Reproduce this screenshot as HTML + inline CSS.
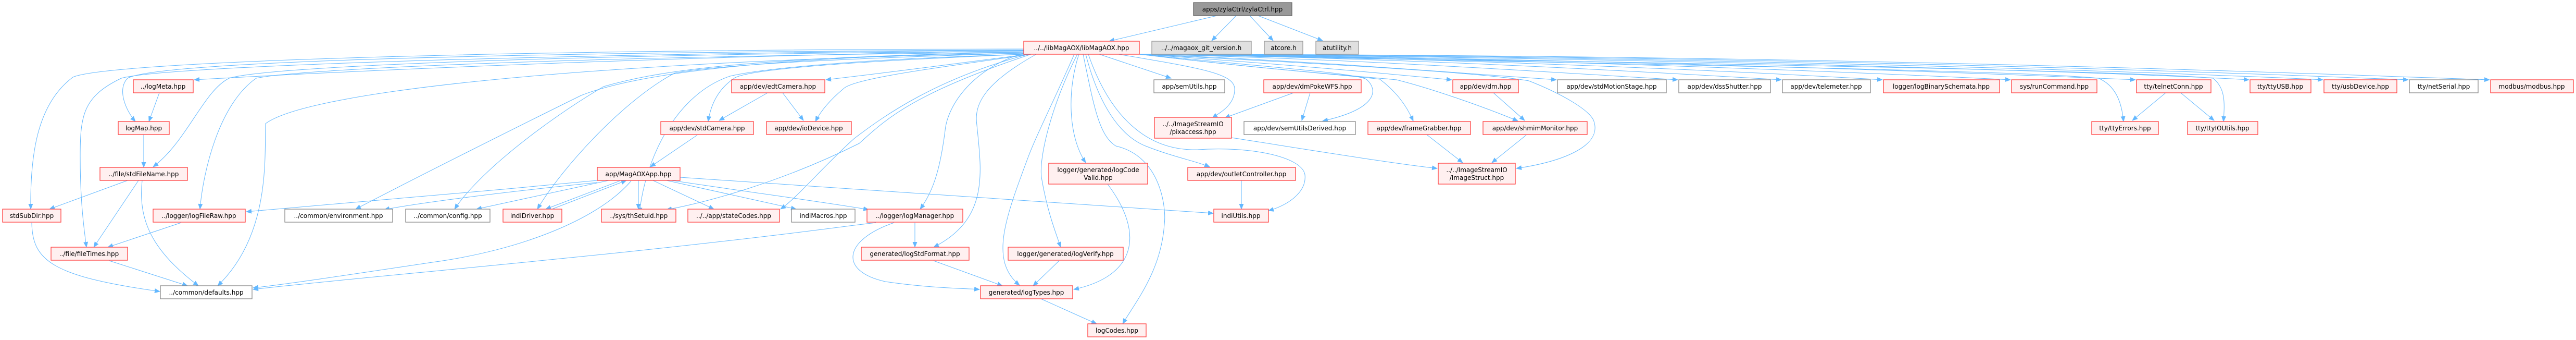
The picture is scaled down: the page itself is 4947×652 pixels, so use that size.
<!DOCTYPE html>
<html><head><meta charset="utf-8"><style>
html,body{margin:0;padding:0;background:#fff;}
svg{display:block;}
text{font-family:"DejaVu Sans","Liberation Sans",sans-serif;font-size:12px;fill:#000;text-anchor:middle;}
.r{fill:#fff0f0;stroke:#ff4040;stroke-width:1.3;}
.w{fill:#fff;stroke:#888;stroke-width:1.3;}
.g{fill:#e0e0e0;stroke:#999;stroke-width:1.3;}
.d{fill:#999;stroke:#666;stroke-width:1.3;}
path.e{fill:none;stroke:#63b8ff;stroke-width:1;marker-end:url(#a);}
</style></head><body>
<svg width="4947" height="652" viewBox="0 0 4947 652" xmlns="http://www.w3.org/2000/svg">
<defs><marker id="a" markerWidth="11" markerHeight="9" refX="10" refY="4.5" orient="auto" markerUnits="userSpaceOnUse"><path d="M0,0 L11,4.5 L0,9z" fill="#63b8ff"/></marker></defs>

<!-- edges -->
<g>
<path class="e" d="M2337,30 L2130,79"/>
<path class="e" d="M2374,30 L2327,78"/>
<path class="e" d="M2400,30 L2445,78"/>
<path class="e" d="M2416,30 L2540,78"/>

<path class="e" d="M1966,97 C1200,110 600,140 373,153"/>
<path class="e" d="M1966,96 C900,100 300,120 245,150 C225,170 240,210 260,233"/>
<path class="e" d="M1966,98 C1000,105 500,130 440,150 C390,175 360,270 294,320"/>
<path class="e" d="M1966,94 C900,95 200,120 140,148 C70,200 58,300 59,401"/>
<path class="e" d="M1966,96 C900,105 300,130 233,150 C160,185 154,220 154,300 C154,380 160,430 166,474"/>
<path class="e" d="M1966,100 C1000,110 560,135 492,150 C420,200 390,330 384,401"/>
<path class="e" d="M1966,102 C1200,115 600,170 510,237 C508,300 520,450 418,548"/>
<path class="e" d="M1966,100 C1400,110 1200,150 1116,183 C1000,240 800,340 683,401"/>
<path class="e" d="M1966,100 C1400,110 1250,140 1159,166 C1050,230 920,330 873,401"/>
<path class="e" d="M1966,102 C1500,115 1350,130 1296,140 C1200,190 1080,320 1032,401"/>
<path class="e" d="M1966,104 C1600,115 1450,135 1402,146 C1300,180 1240,300 1228,408"/>
<path class="e" d="M1966,104 C1700,115 1440,130 1410,150 C1380,170 1365,200 1360,233"/>
<path class="e" d="M1975,104 C1850,120 1700,140 1586,153"/>
<path class="e" d="M1980,104 C1800,130 1640,150 1620,170 C1590,195 1575,215 1566,233"/>
<path class="e" d="M1975,104 C1800,150 1700,220 1640,266 C1580,320 1530,380 1499,401"/>
<path class="e" d="M1980,104 C1750,180 1700,230 1650,275 C1500,350 1350,390 1280,402"/>
<path class="e" d="M1966,102 C1870,130 1820,200 1815,250 C1805,330 1790,370 1767,401"/>
<path class="e" d="M1990,104 C1890,160 1870,200 1876,240 C1885,330 1900,420 1793,474"/>
<path class="e" d="M2063,104 C2030,180 1990,260 1975,300 C1930,420 1900,500 1958,547"/>
<path class="e" d="M2069,104 C2020,200 1995,300 2000,340 C2010,400 2025,440 2037,474"/>
<path class="e" d="M2072,104 C2050,170 2050,260 2085,312"/>
<path class="e" d="M2080,104 C2100,200 2110,260 2143,280 C2230,300 2240,400 2236,430 C2230,520 2180,580 2156,621"/>
<path class="e" d="M2085,104 C2110,200 2150,260 2200,280 C2250,300 2300,310 2323,320"/>
<path class="e" d="M2090,104 C2130,220 2200,290 2300,287 C2400,280 2500,300 2506,335 C2510,370 2470,395 2436,404"/>
<path class="e" d="M2111,104 L2249,150"/>
<path class="e" d="M2148,104 C2300,130 2370,140 2371,170 C2372,200 2345,215 2328,226"/>
<path class="e" d="M2188,104 C2450,130 2600,140 2624,152 C2650,175 2640,210 2540,232"/>
<path class="e" d="M2188,104 C2450,135 2600,145 2650,152 C2680,175 2700,200 2714,232"/>
<path class="e" d="M2188,104 C2450,135 2600,145 2682,153 C2750,170 2850,205 2915,232"/>
<path class="e" d="M2188,104 C2600,125 2850,140 2936,155 C3000,180 3050,210 3060,230 C3080,280 3000,310 2912,323"/>
<path class="e" d="M2188,104 C2500,125 2700,145 2788,153"/>
<path class="e" d="M2188,104 C2500,115 2800,140 2989,153"/>
<path class="e" d="M2188,104 C2600,112 3000,140 3222,153"/>
<path class="e" d="M2188,104 C2700,110 3200,140 3421,153"/>
<path class="e" d="M2188,104 C2800,110 3400,140 3615,153"/>
<path class="e" d="M2188,104 C2900,110 3600,140 3861,153"/>
<path class="e" d="M2188,104 C3000,110 3800,140 4101,153"/>
<path class="e" d="M2188,104 C3000,120 3900,135 4030,150 C4065,165 4075,200 4078,233"/>
<path class="e" d="M2188,104 C3200,120 4100,135 4250,150 C4275,170 4272,200 4270,233"/>
<path class="e" d="M2188,104 C3200,110 4100,140 4319,153"/>
<path class="e" d="M2188,104 C3300,108 4200,140 4461,153"/>
<path class="e" d="M2188,104 C3400,106 4300,140 4625,153"/>
<path class="e" d="M2188,104 C3500,104 4400,140 4781,153"/>

<path class="e" d="M306,178 L286,233"/>
<path class="e" d="M276,258 L276,321"/>
<path class="e" d="M245,346 L95,401"/>
<path class="e" d="M266,346 L180,474"/>
<path class="e" d="M273,346 C265,420 290,480 381,548"/>
<path class="e" d="M61,427 C62,500 100,530 307,559"/>
<path class="e" d="M348,427 L207,474"/>
<path class="e" d="M210,500 L360,548"/>

<path class="e" d="M1474,178 L1381,231"/>
<path class="e" d="M1503,178 L1543,231"/>
<path class="e" d="M1339,259 L1249,320"/>
<path class="e" d="M1147,346 C900,370 600,395 473,406"/>
<path class="e" d="M1147,350 C950,370 800,390 738,402"/>
<path class="e" d="M1169,346 L915,401"/>
<path class="e" d="M1190,347 L1048,401"/>
<path class="e" d="M1060,401 L1203,346"/>
<path class="e" d="M1226,346 L1226,401"/>
<path class="e" d="M1254,346 L1371,401"/>
<path class="e" d="M1280,346 L1529,401"/>
<path class="e" d="M1306,340 L2330,409"/>
<path class="e" d="M1290,346 C1450,370 1600,390 1668,402"/>
<path class="e" d="M1212,347 C1150,420 1000,480 830,503 C650,530 550,545 486,552"/>
<path class="e" d="M1682,427 L1640,432 C1200,490 700,530 486,555"/>
<path class="e" d="M1717,427 C1620,460 1610,520 1700,540 C1780,552 1850,553 1881,555"/>
<path class="e" d="M1757,427 L1757,474"/>
<path class="e" d="M1793,500 L1925,548"/>
<path class="e" d="M2034,500 L1984,548"/>
<path class="e" d="M2127,353 C2200,450 2180,530 2062,555"/>
<path class="e" d="M1999,573 L2106,621"/>
<path class="e" d="M2384,346 L2384,401"/>
<path class="e" d="M2484,178 L2352,226"/>
<path class="e" d="M2516,178 L2500,231"/>
<path class="e" d="M2365,264 C2500,285 2650,310 2760,323"/>
<path class="e" d="M2741,259 L2809,312"/>
<path class="e" d="M2931,259 L2865,312"/>
<path class="e" d="M2868,178 L2928,231"/>
<path class="e" d="M4159,178 L4095,231"/>
<path class="e" d="M4188,178 L4252,231"/>
</g>

<!-- nodes -->
<g>
<rect class="d" x="2292" y="5" width="189" height="25"/><text x="2386" y="22">apps/zylaCtrl/zylaCtrl.hpp</text>
<rect class="r" x="1966" y="79" width="222" height="25"/><text x="2077" y="96">../../libMagAOX/libMagAOX.hpp</text>
<rect class="g" x="2212" y="79" width="191" height="25"/><text x="2307" y="96">../../magaox_git_version.h</text>
<rect class="g" x="2428" y="79" width="74" height="25"/><text x="2465" y="96">atcore.h</text>
<rect class="g" x="2527" y="79" width="82" height="25"/><text x="2568" y="96">atutility.h</text>

<rect class="r" x="256" y="153" width="115" height="25"/><text x="313" y="170">../logMeta.hpp</text>
<rect class="r" x="1405" y="153" width="179" height="25"/><text x="1494" y="170">app/dev/edtCamera.hpp</text>
<rect class="w" x="2216" y="153" width="136" height="25"/><text x="2284" y="170">app/semUtils.hpp</text>
<rect class="r" x="2427" y="153" width="187" height="25"/><text x="2520" y="170">app/dev/dmPokeWFS.hpp</text>
<rect class="r" x="2790" y="153" width="126" height="25"/><text x="2853" y="170">app/dev/dm.hpp</text>
<rect class="w" x="2991" y="153" width="209" height="25"/><text x="3095" y="170">app/dev/stdMotionStage.hpp</text>
<rect class="w" x="3224" y="153" width="176" height="25"/><text x="3312" y="170">app/dev/dssShutter.hpp</text>
<rect class="w" x="3423" y="153" width="169" height="25"/><text x="3507" y="170">app/dev/telemeter.hpp</text>
<rect class="r" x="3617" y="153" width="223" height="25"/><text x="3728" y="170">logger/logBinarySchemata.hpp</text>
<rect class="r" x="3863" y="153" width="164" height="25"/><text x="3945" y="170">sys/runCommand.hpp</text>
<rect class="r" x="4103" y="153" width="143" height="25"/><text x="4174" y="170">tty/telnetConn.hpp</text>
<rect class="r" x="4321" y="153" width="117" height="25"/><text x="4379" y="170">tty/ttyUSB.hpp</text>
<rect class="r" x="4463" y="153" width="140" height="25"/><text x="4533" y="170">tty/usbDevice.hpp</text>
<rect class="w" x="4627" y="153" width="132" height="25"/><text x="4693" y="170">tty/netSerial.hpp</text>
<rect class="r" x="4783" y="153" width="159" height="25"/><text x="4862" y="170">modbus/modbus.hpp</text>

<rect class="r" x="227" y="233" width="98" height="25"/><text x="276" y="250">logMap.hpp</text>
<rect class="r" x="1269" y="233" width="178" height="25"/><text x="1358" y="250">app/dev/stdCamera.hpp</text>
<rect class="r" x="1472" y="233" width="163" height="25"/><text x="1553" y="250">app/dev/ioDevice.hpp</text>
<rect class="r" x="2217" y="225" width="148" height="40"/><text x="2291" y="242">../../ImageStreamIO</text><text x="2291" y="257">/pixaccess.hpp</text>
<rect class="w" x="2389" y="233" width="214" height="25"/><text x="2496" y="250">app/dev/semUtilsDerived.hpp</text>
<rect class="r" x="2627" y="233" width="197" height="25"/><text x="2725" y="250">app/dev/frameGrabber.hpp</text>
<rect class="r" x="2848" y="233" width="200" height="25"/><text x="2948" y="250">app/dev/shmimMonitor.hpp</text>
<rect class="r" x="4017" y="233" width="128" height="25"/><text x="4081" y="250">tty/ttyErrors.hpp</text>
<rect class="r" x="4201" y="233" width="135" height="25"/><text x="4268" y="250">tty/ttyIOUtils.hpp</text>

<rect class="r" x="192" y="321" width="168" height="25"/><text x="276" y="338">../file/stdFileName.hpp</text>
<rect class="r" x="1147" y="321" width="159" height="25"/><text x="1226" y="338">app/MagAOXApp.hpp</text>
<rect class="r" x="2014" y="313" width="190" height="40"/><text x="2109" y="330">logger/generated/logCode</text><text x="2109" y="345">Valid.hpp</text>
<rect class="r" x="2281" y="321" width="207" height="25"/><text x="2384" y="338">app/dev/outletController.hpp</text>
<rect class="r" x="2762" y="313" width="148" height="40"/><text x="2836" y="330">../../ImageStreamIO</text><text x="2836" y="345">/ImageStruct.hpp</text>

<rect class="r" x="5" y="401" width="112" height="25"/><text x="61" y="418">stdSubDir.hpp</text>
<rect class="r" x="294" y="401" width="177" height="25"/><text x="382" y="418">../logger/logFileRaw.hpp</text>
<rect class="w" x="547" y="401" width="207" height="25"/><text x="650" y="418">../common/environment.hpp</text>
<rect class="w" x="779" y="401" width="162" height="25"/><text x="860" y="418">../common/config.hpp</text>
<rect class="r" x="966" y="401" width="113" height="25"/><text x="1022" y="418">indiDriver.hpp</text>
<rect class="r" x="1155" y="401" width="143" height="25"/><text x="1226" y="418">../sys/thSetuid.hpp</text>
<rect class="r" x="1321" y="401" width="176" height="25"/><text x="1409" y="418">../../app/stateCodes.hpp</text>
<rect class="w" x="1520" y="401" width="122" height="25"/><text x="1581" y="418">indiMacros.hpp</text>
<rect class="r" x="1665" y="401" width="184" height="25"/><text x="1757" y="418">../logger/logManager.hpp</text>
<rect class="r" x="2331" y="401" width="105" height="25"/><text x="2383" y="418">indiUtils.hpp</text>

<rect class="r" x="98" y="474" width="147" height="25"/><text x="171" y="491">../file/fileTimes.hpp</text>
<rect class="r" x="1654" y="474" width="207" height="25"/><text x="1757" y="491">generated/logStdFormat.hpp</text>
<rect class="r" x="1936" y="474" width="221" height="25"/><text x="2046" y="491">logger/generated/logVerify.hpp</text>

<rect class="w" x="308" y="548" width="176" height="25"/><text x="396" y="565">../common/defaults.hpp</text>
<rect class="r" x="1883" y="548" width="177" height="25"/><text x="1971" y="565">generated/logTypes.hpp</text>

<rect class="r" x="2089" y="621" width="112" height="25"/><text x="2145" y="638">logCodes.hpp</text>
</g>
</svg>
</body></html>
